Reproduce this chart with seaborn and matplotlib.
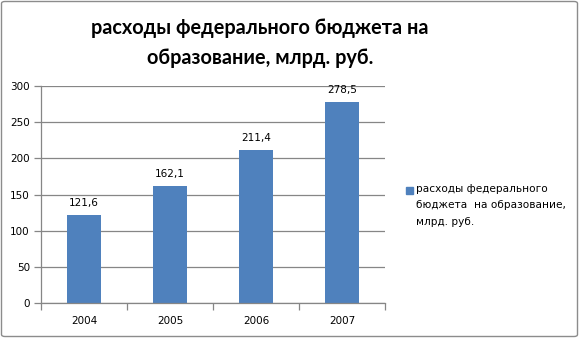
import matplotlib
matplotlib.use("Agg")
import matplotlib.pyplot as plt
import seaborn as sns
import pandas as pd
from matplotlib.patches import FancyBboxPatch

years = ["2004", "2005", "2006", "2007"]
values = [121.6, 162.1, 211.4, 278.5]
value_labels = ["121,6", "162,1", "211,4", "278,5"]
yticks = [0, 50, 100, 150, 200, 250, 300]
series_name = "расходы федерального\nбюджета  на образование,\nмлрд. руб."
title = "расходы федерального бюджета на\nобразование, млрд. руб."

sns.set_theme(style="white")
plt.rcParams['font.family'] = ['DejaVu Sans']
plt.rcParams['text.color'] = '#000000'

W, H = 579, 338
fig = plt.figure(figsize=(W / 100, H / 100), dpi=100)

# chart border
fig.patches.append(FancyBboxPatch((1.5 / W, 1.5 / H), (W - 3) / W, (H - 3) / H,
                                  boxstyle="round,pad=0,rounding_size=0.006",
                                  transform=fig.transFigure, fill=False,
                                  edgecolor="#8c8c8c", linewidth=1.0))

left, right, top, bottom = 41, 385, 86, 303
ax = fig.add_axes([left / W, 1 - bottom / H, (right - left) / W, (bottom - top) / H])

df = pd.DataFrame({"year": years, "value": values})
sns.barplot(data=df, x="year", y="value", ax=ax, color="#4F81BD", width=0.4,
            saturation=1, edgecolor="none")

ax.set_ylim(0, 300)
ax.set_xlim(-0.5, 3.5)
ax.set_yticks(yticks)
ax.set_yticklabels([str(t) for t in yticks], fontsize=7.5, color="#000000")
ax.set_xlabel("")
ax.set_ylabel("")
ax.set_xticks(range(len(years)))
ax.set_xticklabels(years, fontsize=7.5, color="#000000")
ax.yaxis.grid(True, color="#868686", linewidth=0.9)
ax.set_axisbelow(True)
for s in ["top", "right"]:
    ax.spines[s].set_visible(False)
for s in ["left", "bottom"]:
    ax.spines[s].set_color("#868686")
    ax.spines[s].set_linewidth(0.9)
ax.tick_params(axis="y", which="major", length=5, color="#868686", width=0.9, pad=3, left=True)
ax.tick_params(axis="x", which="major", length=0, pad=9)
# category boundary ticks on x axis
ax.set_xticks([-0.5, 0.5, 1.5, 2.5, 3.5], minor=True)
ax.tick_params(axis="x", which="minor", length=5, color="#868686", width=0.9, bottom=True)

for i, (v, lab) in enumerate(zip(values, value_labels)):
    ax.annotate(lab, (i, v), xytext=(0, 5), textcoords="offset points",
                ha="center", va="bottom", fontsize=7.5, color="#000000")

fig.text(0.449, 1 - 43 / H, title, ha="center", va="center", fontsize=14.3,
         fontweight="bold", family=["Lato", "DejaVu Sans"], linespacing=1.62,
         color="#000000")

# legend
fig.patches.append(plt.Rectangle((406 / W, 1 - 194 / H), 7 / W, 7 / H,
                                 transform=fig.transFigure, color="#4F81BD"))
fig.text(416 / W, 1 - 184 / H, series_name, ha="left", va="top", fontsize=7.6,
         family=["DejaVu Sans"], linespacing=1.8, color="#000000")

fig.savefig("out.png", dpi=100)
